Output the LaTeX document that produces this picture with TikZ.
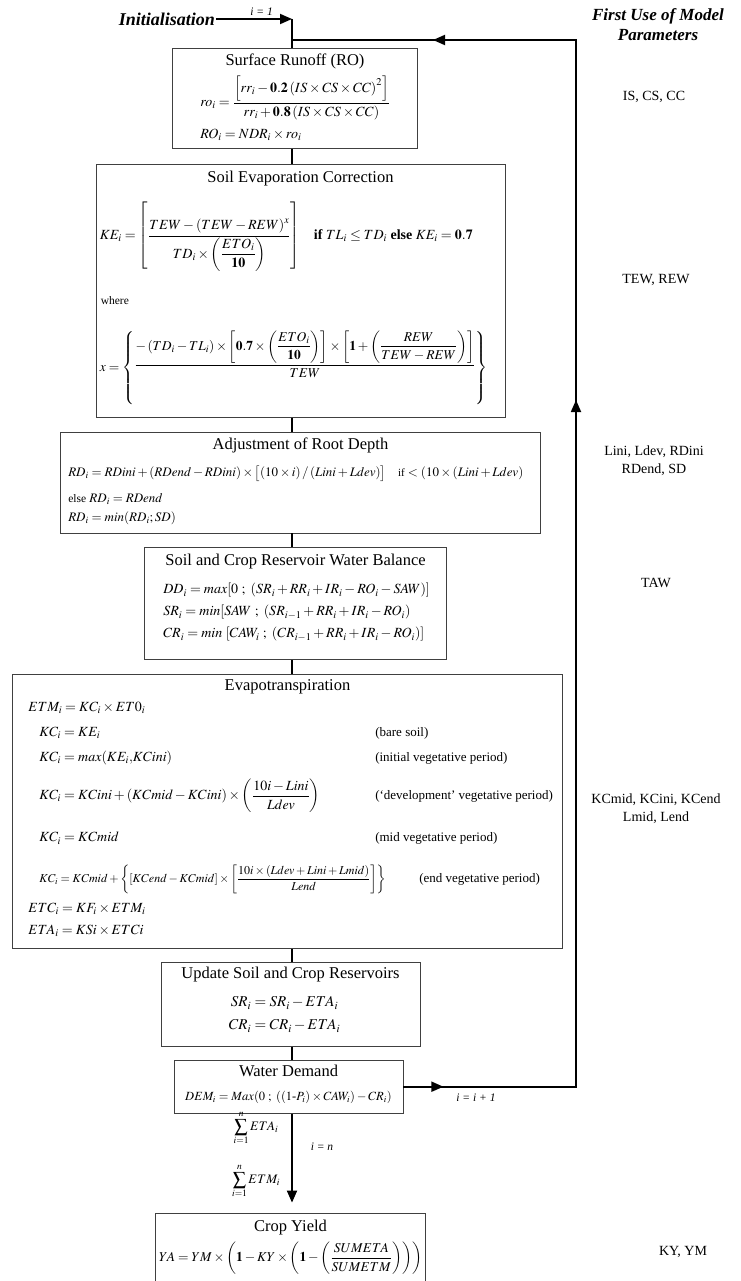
\documentclass[tikz,border=0pt]{standalone}
\usepackage{amsmath}
\usepackage{mathptmx}
\usepackage[no-math]{fontspec}
\setmainfont{Liberation Serif}
\usetikzlibrary{arrows.meta, positioning, calc}
\newcommand{\fsz}[2]{\fontsize{#1}{#2}\selectfont}

\begin{document}
\begin{tikzpicture}[x=1pt, y=-1pt,
    stage/.style={rectangle, draw=black!75, line width=0.8pt, inner sep=0pt},
    ttl/.style={inner sep=1pt, font=\fsz{16.5}{19}},
    eq/.style={inner sep=1pt, anchor=west, font=\fsz{14}{16}},
    cmt/.style={inner sep=1pt, anchor=west, font=\fsz{13}{15}},
    prm/.style={inner sep=1pt, font=\fsz{14}{18}, align=center},
    head/.style={inner sep=1pt, font=\fsz{17}{20}\bfseries\itshape, align=center},
    lbl/.style={inner sep=1pt, font=\fsz{11.5}{13}\itshape},
    conn/.style={line width=1.2pt},
    loopln/.style={line width=1.8pt},
    tip/.style={-{Triangle[length=12pt, width=10pt]}},
]
\useasboundingbox (0,0) rectangle (740,1281);

\node[stage, minimum width=245pt, minimum height=100pt, anchor=north] (runoff) at (295,48) {};
\node[stage, minimum width=409pt, minimum height=253pt, below=15pt of runoff, xshift=5.5pt] (soilevap) {};
\node[stage, minimum width=480pt, minimum height=101pt, below=14pt of soilevap] (rootdepth) {};
\node[stage, minimum width=302pt, minimum height=112pt, below=14pt of rootdepth, xshift=-5pt] (balance) {};
\node[stage, minimum width=550pt, minimum height=274pt, below=14pt of balance, xshift=-8pt] (evapo) {};
\node[stage, minimum width=259pt, minimum height=84pt, below=13pt of evapo, xshift=3pt] (update) {};
\node[stage, minimum width=229pt, minimum height=53pt, below=13pt of update, xshift=-2pt] (demand) {};
\node[stage, minimum width=270pt, minimum height=80pt, below=99pt of demand, xshift=2pt] (yield) {};

% surface runoff
\node[ttl, below=5pt of runoff.north] (runoffT) {Surface Runoff (RO)};
\node[eq] (ro) at ($(runoff.north west)+(27,50)$) {$\displaystyle ro_i=\frac{\left[rr_i-\mathbf{0.2}\left(IS\times CS\times CC\right)^2\right]}{rr_i+\mathbf{0.8}\left(IS\times CS\times CC\right)}$};
\node[eq] (RO) at ($(runoff.north west)+(27,87)$) {$RO_i=NDR_i\times ro_i$};

% soil evaporation
\node[ttl, below=6pt of soilevap.north] (soilevapT) {Soil Evaporation Correction};
\node[eq] (ke) at ($(soilevap.north west)+(3,73)$) {$\displaystyle KE_i=\left[\frac{TEW-\left(TEW-REW\right)^x}{TD_i\times\left(\dfrac{ETO_i}{\mathbf{10}}\right)}\right]$\quad \textbf{if} $TL_i\le TD_i$ \textbf{else} $KE_i=\mathbf{0.7}$};
\node[eq, font=\fsz{11.5}{13}] (where) at ($(soilevap.north west)+(4,137)$) {where};
\node[eq, font=\fsz{13.5}{16}] (xeq) at ($(soilevap.north west)+(3,204)$) {$\displaystyle x=\left\{\begin{matrix}\dfrac{-\left(TD_i-TL_i\right)\times\left[\mathbf{0.7}\times\left(\dfrac{ETO_i}{\mathbf{10}}\right)\right]\times\left[\mathbf{1}+\left(\dfrac{REW}{TEW-REW}\right)\right]}{TEW}\\[16pt]\mbox{}\end{matrix}\right\}$};

% root depth
\node[ttl, below=5pt of rootdepth.north] (rootdepthT) {Adjustment of Root Depth};
\node[eq, font=\fsz{13}{15}] (rd1) at ($(rootdepth.north west)+(7,42)$) {$RD_i=RDini+(RDend-RDini)\times\bigl[(10\times i)\,/\,(Lini+Ldev)\bigr]$\hspace{12pt}{\fsz{11}{13}if} $<(10\times(Lini+Ldev)$};
\node[eq, font=\fsz{13}{15}] (rd2) at ($(rootdepth.north west)+(7,67)$) {{\fsz{11.5}{13}else} $RD_i=RDend$};
\node[eq, font=\fsz{13}{15}] (rd3) at ($(rootdepth.north west)+(7,87)$) {$RD_i=min(RD_i;SD)$};

% water balance
\node[ttl, below=5pt of balance.north] (balanceT) {Soil and Crop Reservoir Water Balance};
\node[eq] (dd) at ($(balance.north west)+(18,43)$) {$DD_i=max[0\ ;\ (SR_i+RR_i+IR_i-RO_i-SAW)]$};
\node[eq] (sr) at ($(balance.north west)+(18,65)$) {$SR_i=min[SAW\ ;\ (SR_{i-1}+RR_i+IR_i-RO_i)$};
\node[eq] (cr) at ($(balance.north west)+(18,87)$) {$CR_i=min\ [CAW_i\ ;\ (CR_{i-1}+RR_i+IR_i-RO_i)]$};

% evapotranspiration
\node[ttl, below=4pt of evapo.north] (evapoT) {Evapotranspiration};
\node[eq] (etm) at ($(evapo.north west)+(15,34)$) {$ETM_i=KC_i\times ET0_i$};
\node[eq] (kc1) at ($(evapo.north west)+(26,59)$) {$KC_i=KE_i$};
\node[eq] (kc2) at ($(evapo.north west)+(26,84)$) {$KC_i=max(KE_i{,}KCini)$};
\node[eq] (kc3) at ($(evapo.north west)+(26,122)$) {$\displaystyle KC_i=KCini+\left(KCmid-KCini\right)\times\left(\frac{10i-Lini}{Ldev}\right)$};
\node[eq] (kc4) at ($(evapo.north west)+(26,164)$) {$KC_i=KCmid$};
\node[eq, font=\fsz{12}{14}] (kc5) at ($(evapo.north west)+(26,205)$) {$\displaystyle KC_i=KCmid+\left\{\left[KCend-KCmid\right]\times\left[\frac{10i\times\left(Ldev+Lini+Lmid\right)}{Lend}\right]\right\}$};
\node[eq] (etc) at ($(evapo.north west)+(15,235)$) {$ETC_i=KF_i\times ETM_i$};
\node[eq] (eta) at ($(evapo.north west)+(15,257)$) {$ETA_i=KSi\times ETCi$};
\node[cmt] (c1) at ($(evapo.north west)+(362,59)$) {(bare soil)};
\node[cmt] (c2) at ($(evapo.north west)+(362,84)$) {(initial vegetative period)};
\node[cmt] (c3) at ($(evapo.north west)+(362,122)$) {(‘development’ vegetative period)};
\node[cmt] (c4) at ($(evapo.north west)+(362,164)$) {(mid vegetative period)};
\node[cmt] (c5) at ($(evapo.north west)+(406,205)$) {(end vegetative period)};

% update reservoirs
\node[ttl, below=4pt of update.north] (updateT) {Update Soil and Crop Reservoirs};
\node[eq, anchor=center, font=\fsz{15}{17}] (sr2) at ($(update.north)+(-6,41)$) {$SR_i=SR_i-ETA_i$};
\node[eq, anchor=center, font=\fsz{15}{17}] (cr2) at ($(update.north)+(-6,64)$) {$CR_i=CR_i-ETA_i$};

% water demand
\node[ttl, below=4pt of demand.north] (demandT) {Water Demand};
\node[eq, anchor=center, font=\fsz{12.5}{14}] (dem) at ($(demand.north)+(0,38)$) {$DEM_i=Max(0\ ;\ ((1\text{-}P_i)\times CAW_i)-CR_i)$};

% crop yield
\node[ttl, below=6pt of yield.north] (yieldT) {Crop Yield};
\node[eq, anchor=center, font=\fsz{13.5}{16}] (ya) at ($(yield.north)+(0,46)$) {$\displaystyle YA=YM\times\left(\mathbf{1}-KY\times\left(\mathbf{1}-\left(\frac{SUMETA}{SUMETM}\right)\right)\right)$};

% sums
\node[eq, anchor=center, font=\fsz{13}{15}] (sumeta) at (256,1128) {$\displaystyle\sum_{i=1}^{n}ETA_i$};
\node[eq, anchor=center, font=\fsz{13}{15}] (sumetm) at (256,1181) {$\displaystyle\sum_{i=1}^{n}ETM_i$};
\node[lbl] (iend) at (322,1147) {i = n};

% parameters column
\node[head] (hdr) at (658,25) {First Use of Model\\Parameters};
\node[prm] (p1) at (654,97) {IS, CS, CC};
\node[prm] (p2) at (656,280) {TEW, REW};
\node[prm] (p3) at (654,461) {Lini, Ldev, RDini\\RDend, SD};
\node[prm] (p4) at (656,583) {TAW};
\node[prm] (p5) at (656,809) {KCmid, KCini, KCend\\Lmid, Lend};
\node[prm] (p6) at (683,1252) {KY, YM};

% flow
\node[head, font=\fsz{18}{20}\bfseries\itshape, anchor=east] (init) at (216,19) {Initialisation};
\coordinate (jn) at (292,19);
\coordinate (cnrT) at (576,40);
\draw[loopln, tip] (init) -- node[lbl, above=2pt, pos=0.6] (istart) {i = 1} (jn);
\draw[loopln] (jn) -- (runoff.north -| jn);
\draw[conn] (runoff.south -| jn) -- (soilevap.north -| jn);
\draw[conn] (soilevap.south -| jn) -- (rootdepth.north -| jn);
\draw[conn] (rootdepth.south -| jn) -- (balance.north -| jn);
\draw[conn] (balance.south -| jn) -- (evapo.north -| jn);
\draw[conn] (evapo.south -| jn) -- (update.north -| jn);
\draw[conn] (update.south -| jn) -- (demand.north -| jn);
\draw[loopln, tip] (demand.south -| jn) -- ([yshift=10pt]yield.north -| jn);
\draw[loopln] (demand.east) -- (demand.east -| cnrT) -- (cnrT) -- (jn |- cnrT);
\draw[loopln, tip] (demand.east) -- ($(demand.east)+(40,0)$);
\draw[loopln, tip] (demand.east -| cnrT) -- (576,400);
\draw[loopln, tip] (cnrT) -- (433,40);
\node[lbl] (inext) at (476,1098) {i = i + 1};
\end{tikzpicture}
\end{document}
